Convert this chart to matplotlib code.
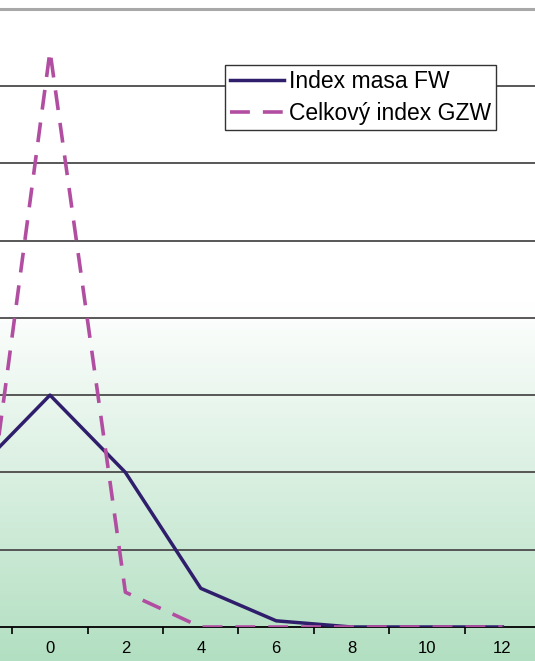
import numpy as np
import matplotlib

matplotlib.use("Agg")

from matplotlib import pyplot as plt
from matplotlib.colors import LinearSegmentedColormap

plt.rcParams["font.family"] = ["Liberation Sans", "DejaVu Sans"]

# series values at the even categories
x_vals = [-2, 0, 2, 4, 6, 8, 10, 12]
fw_index = [2.0, 3.0, 2.0, 0.5, 0.08, 0.0, 0.0, 0.0]
gzw_index = [0.1, 7.45, 0.45, 0.0, 0.0, 0.0, 0.0, 0.0]
series_labels = ["Index masa FW", "Celkový index GZW"]
tick_labels = ["0", "2", "4", "6", "8", "10", "12"]
grid_levels = [1, 2, 3, 4, 5, 6, 7]

W, H = 535, 661
fig = plt.figure(figsize=(W / 100, H / 100), dpi=100)

# white-to-green vertical wash behind everything
bg = fig.add_axes([0, 0, 1, 1], zorder=0)
rows = np.arange(H)
t = np.clip((rows - 300) / (H - 300), 0, 1)
wash = LinearSegmentedColormap.from_list("wash", ["#ffffff", "#b2dfc1"])
bg.imshow(t[:, None], cmap=wash, aspect="auto", extent=[0, 1, 0, 1], origin="upper", vmin=0, vmax=1)
bg.axis("off")

ax = fig.add_axes([0, 34 / H, 1, (627 - 8.6) / H], zorder=1)
ax.set_facecolor("none")
ax.set_xlim(-1.326, 12.865)
ax.set_ylim(0, 8)

for lvl in grid_levels:
    ax.axhline(lvl, color="#4a4a4a", linewidth=1.3, zorder=1)
ax.axhline(8, color="#a8a8a8", linewidth=2.2, zorder=1, clip_on=False)

ax.plot(x_vals, fw_index, color="#2f1e6b", linewidth=2.5, label=series_labels[0], zorder=3)
ax.plot(x_vals, gzw_index, color="#b24ea1", linewidth=2.6, linestyle=(0, (5.5, 3.6)),
        label=series_labels[1], zorder=4)

for side in ("top", "left", "right"):
    ax.spines[side].set_visible(False)
ax.spines["bottom"].set_color("black")
ax.spines["bottom"].set_linewidth(1.3)
ax.spines["bottom"].set_zorder(2)

ax.set_yticks([])
ax.set_xticks([int(s) for s in tick_labels])
ax.set_xticklabels(tick_labels, fontsize=12)
ax.set_xticks(np.arange(-1, 12, 2), minor=True)
ax.tick_params(axis="x", which="major", length=0, pad=10)
ax.tick_params(axis="x", which="minor", length=5, width=1.2, color="black", direction="out")

leg = ax.legend(
    loc="upper left",
    bbox_to_anchor=(225 / W, 1 - 65 / H),
    bbox_transform=fig.transFigure,
    fontsize=16.5,
    frameon=True,
    fancybox=False,
    framealpha=1,
    edgecolor="#333333",
    handlelength=2.35,
    handletextpad=0.22,
    labelspacing=0.4,
    borderpad=0.22,
    borderaxespad=0,
)
leg.get_frame().set_linewidth(1.0)
leg.set_zorder(5)

fig.savefig("out.png", dpi=100)
